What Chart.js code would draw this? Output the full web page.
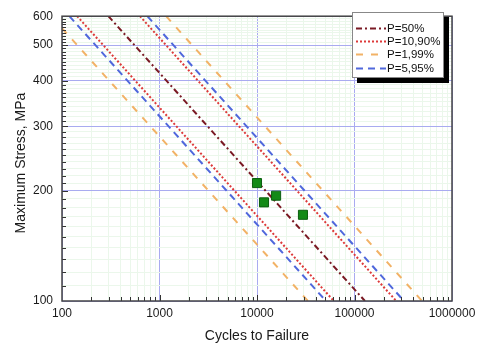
<!DOCTYPE html>
<html><head><meta charset="utf-8">
<script src="https://cdn.jsdelivr.net/npm/chart.js@4.4.1/dist/chart.umd.min.js"></script>
<style>html,body{margin:0;padding:0;background:#fff;}#wrap{width:481px;height:347px;}</style>
</head><body><div id="wrap"><canvas id="c" width="481" height="347"></canvas></div>
<script>
// ---- data ----
const cyclesTickLabels = [100, 1000, 10000, 100000, 1000000];
const stressTickLabels = [100, 200, 300, 400, 500, 600];

const lineStress = [600, 100];
const p50Cycles  = [299, 128000];
const p10Cycles  = [143, 61400];
const p90Cycles  = [630, 268000];
const p5Cycles   = [119, 51000];
const p95Cycles  = [750, 322000];
const p1Cycles   = [100, 33300];
const p1Stress   = [556, 100];
const p99Cycles  = [1170, 493000];

const testCycles = [10000, 15700, 11800, 29600];
const testStress = [210, 194, 186, 172];

const legendLabels = ['P=50%', 'P=10,90%', 'P=1,99%', 'P=5,95%'];
const xTitle = 'Cycles to Failure';
const yTitle = 'Maximum Stress, MPa';

// ---- helpers ----
const pts = (xs, ys) => xs.map((v, i) => ({x: v, y: ys[i]}));
const xAll = [];
for (let d = 100; d < 1000000; d *= 10) for (let k = 1; k <= 9; k++) xAll.push(k * d);
xAll.push(1000000);
const yAll = [];
for (let v = 100; v <= 600; v += 10) yAll.push(v);
const xMajor = new Set(cyclesTickLabels);
const yMajor = new Set(stressTickLabels);

const C50 = '#7a1a24', C10 = '#dd3a3a', C1 = '#f2b266', C5 = '#5068dc';
const lineDs = (label, data, color, dash, legend) => ({
  label, data, showLine: true, borderColor: color, backgroundColor: color,
  borderWidth: 2, borderDash: dash, pointRadius: 0, pointHoverRadius: 0, fill: false,
  borderCapStyle: 'butt', legendEntry: legend
});

const datasets = [
  {label: 'Test data', data: pts(testCycles, testStress), pointStyle: 'rect', pointRadius: 6.4,
   backgroundColor: '#138a17', borderColor: '#0c5e10', borderWidth: 1, showLine: false},
  lineDs('P=50%', pts(p50Cycles, lineStress), C50, [6, 3, 2, 3], 0),
  lineDs('P=10%', pts(p10Cycles, lineStress), C10, [2, 2], 1),
  lineDs('P=90%', pts(p90Cycles, lineStress), C10, [2, 2], null),
  lineDs('P=1%', pts(p1Cycles, p1Stress), C1, [7, 8], 2),
  lineDs('P=99%', pts(p99Cycles, lineStress), C1, [7, 8], null),
  lineDs('P=5%', pts(p5Cycles, lineStress), C5, [7, 5], 3),
  lineDs('P=95%', pts(p95Cycles, lineStress), C5, [7, 5], null)
];

const FONT = 'Liberation Sans, Arial, sans-serif';

const decor = {
  id: 'decor',
  afterDatasetsDraw(chart) {
    const {ctx, chartArea: a, scales: {x, y}} = chart;
    ctx.save();
    // inward tick marks
    ctx.strokeStyle = '#333'; ctx.lineWidth = 1;
    ctx.beginPath();
    xAll.forEach(v => {
      if (v <= 100 || v >= 1000000) return;
      const px = Math.round(x.getPixelForValue(v)) + 0.5;
      const len = xMajor.has(v) ? 6 : 4;
      ctx.moveTo(px, a.bottom); ctx.lineTo(px, a.bottom - len);
    });
    yAll.forEach(v => {
      if (v <= 100 || v >= 600) return;
      const py = Math.round(y.getPixelForValue(v)) + 0.5;
      const len = yMajor.has(v) ? 6 : 4;
      ctx.moveTo(a.left, py); ctx.lineTo(a.left + len, py);
    });
    ctx.stroke();
    // frame
    ctx.strokeStyle = '#444'; ctx.lineWidth = 1.5;
    ctx.strokeRect(a.left, a.top, a.right - a.left, a.bottom - a.top);

    // y axis title
    ctx.save();
    ctx.translate(21.5, 163);
    ctx.rotate(-Math.PI / 2);
    ctx.font = '14px ' + FONT;
    ctx.fillStyle = '#1a1a1a';
    ctx.textAlign = 'center'; ctx.textBaseline = 'middle';
    ctx.fillText(yTitle, 0, 0);
    ctx.restore();

    // legend box with shadow
    const bx = 352, by = 12, bw = 92, bh = 66;
    ctx.fillStyle = '#000';
    ctx.fillRect(bx + 5, by + 5, bw, bh);
    ctx.fillStyle = '#fff';
    ctx.fillRect(bx, by, bw, bh);
    ctx.strokeStyle = '#888'; ctx.lineWidth = 1;
    ctx.strokeRect(bx + 0.5, by + 0.5, bw - 1, bh - 1);
    ctx.font = '11.5px ' + FONT;
    ctx.textBaseline = 'middle'; ctx.textAlign = 'left';
    const rows = chart.data.datasets.filter(d => d.legendEntry !== undefined && d.legendEntry !== null)
      .sort((p, q) => p.legendEntry - q.legendEntry);
    rows.forEach((d, i) => {
      const ry = Math.round(by + 15.5 + i * 13.4) + 0.5;
      ctx.strokeStyle = d.borderColor; ctx.lineWidth = 2;
      ctx.setLineDash(d.borderDash);
      ctx.beginPath(); ctx.moveTo(356, ry); ctx.lineTo(386, ry); ctx.stroke();
      ctx.setLineDash([]);
      ctx.fillStyle = '#111';
      ctx.fillText(legendLabels[d.legendEntry], 387, ry);
    });
    ctx.restore();
  }
};

new Chart(document.getElementById('c'), {
  type: 'scatter',
  data: {datasets},
  plugins: [decor],
  options: {
    responsive: false, animation: false, devicePixelRatio: 1,
    layout: {padding: {top: 9, right: 29, bottom: 0, left: 0}},
    plugins: {legend: {display: false}, tooltip: {enabled: false}},
    scales: {
      x: {
        type: 'logarithmic', min: 100, max: 1000000,
        afterBuildTicks: s => { s.ticks = xAll.map(v => ({value: v, major: xMajor.has(v)})); },
        afterFit: s => { s.height = 46; },
        ticks: {autoSkip: false, maxRotation: 0, padding: 5, color: '#1a1a1a',
          font: {family: FONT, size: 12},
          callback: v => xMajor.has(v) ? String(v) : ''},
        grid: {drawTicks: false, lineWidth: 1,
          color: c => (c.tick && xMajor.has(c.tick.value)) ? '#a9abf0' : '#ebf7eb'},
        border: {display: false},
        title: {display: true, text: xTitle, color: '#1a1a1a',
          font: {family: FONT, size: 14}, padding: {top: 0, bottom: 2}}
      },
      y: {
        type: 'logarithmic', min: 100, max: 600,
        afterBuildTicks: s => { s.ticks = yAll.map(v => ({value: v, major: yMajor.has(v)})); },
        afterFit: s => { s.width = 62; },
        ticks: {autoSkip: false, padding: 9, color: '#1a1a1a',
          font: {family: FONT, size: 12},
          callback: v => yMajor.has(v) ? String(v) : ''},
        grid: {drawTicks: false, lineWidth: 1,
          color: c => (c.tick && yMajor.has(c.tick.value)) ? '#a9abf0' : '#ebf7eb'},
        border: {display: false},
        title: {display: false}
      }
    }
  }
});
</script>
</body></html>
